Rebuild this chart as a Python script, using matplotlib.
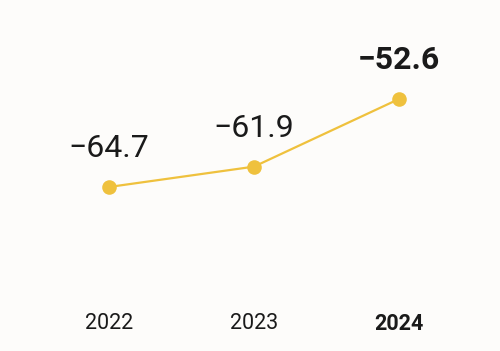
import matplotlib.pyplot as plt

years = ["2022", "2023", "2024"]
values = [-64.7, -61.9, -52.6]
labels = ["\u221264.7", "\u221261.9", "\u221252.6"]

plt.rcParams['font.family'] = ['Roboto', 'DejaVu Sans']

fig = plt.figure(figsize=(5.0, 3.51), dpi=100, facecolor='#fdfcfa')
ax = fig.add_axes([0, 0, 1, 1])
ax.set_facecolor('#fdfcfa')

xs = list(range(len(years)))
ax.plot(xs, values, color='#efc13d', linewidth=1.6, marker='o',
        markersize=10.5, markeredgewidth=0, zorder=3)

for i, (v, lab) in enumerate(zip(values, labels)):
    last = i == len(values) - 1
    ax.annotate(lab, (i, v), xytext=(0, 17), textcoords='offset points',
                ha='center', va='bottom', fontsize=23,
                fontweight='bold' if last else 'normal', color='#1a1a1a')
    ax.text(i, -83.5, years[i], ha='center', va='center', fontsize=15.5,
            fontweight='bold' if last else 'normal', color='#1a1a1a')

ax.set_xlim(-0.752, 2.697)
ax.set_ylim(-87.26, -38.98)
ax.axis('off')

fig.savefig('out.png', dpi=100, facecolor=fig.get_facecolor())
